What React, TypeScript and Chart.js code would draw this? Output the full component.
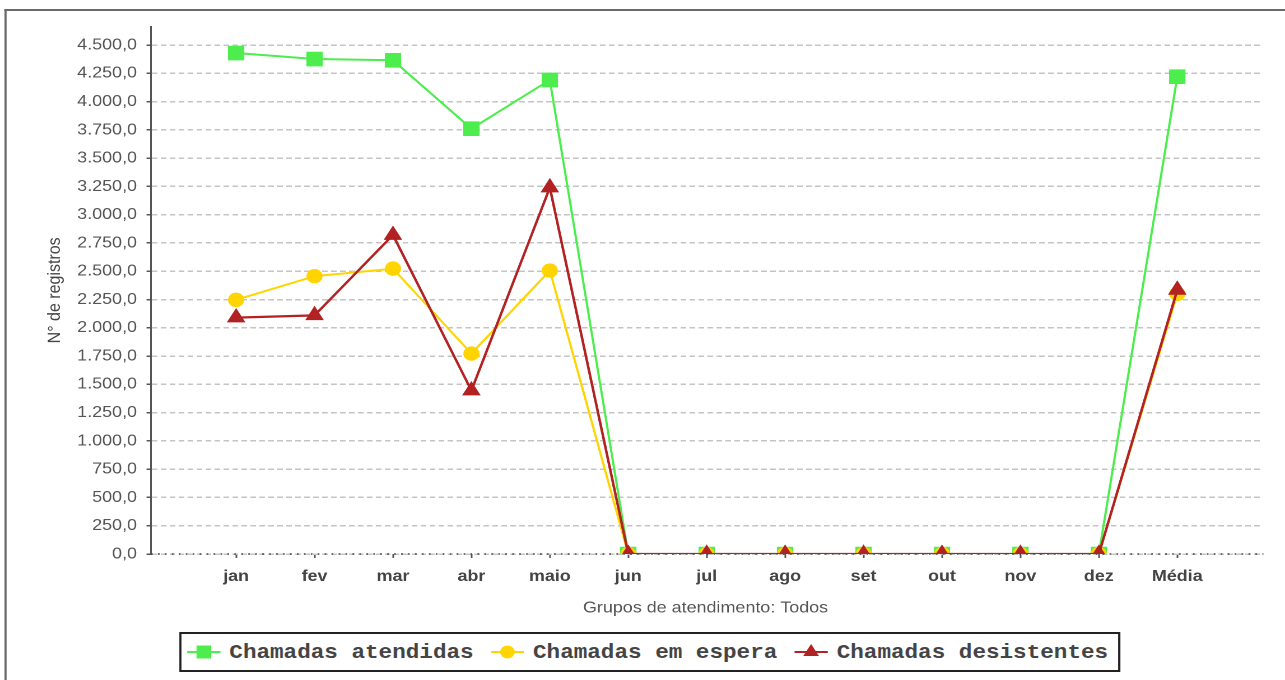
import { useEffect, useRef } from "react";
import { Chart, registerables } from "chart.js";

Chart.register(...registerables);

// ---- data ----
const categories = ["jan", "fev", "mar", "abr", "maio", "jun", "jul", "ago", "set", "out", "nov", "dez", "Média"];
const atendidas = [4429, 4376, 4365, 3760, 4191, 0, 0, 0, 0, 0, 0, 0, 4220];
const emEspera = [2247, 2456, 2523, 1772, 2506, 0, 0, 0, 0, 0, 0, 0, 2300];
const desistentes = [2090, 2110, 2820, 1445, 3240, 0, 0, 0, 0, 0, 0, 0, 2335];
const yTicks = [0, 250, 500, 750, 1000, 1250, 1500, 1750, 2000, 2250, 2500, 2750, 3000, 3250, 3500, 3750, 4000, 4250, 4500];
const seriesNames = ["Chamadas atendidas", "Chamadas em espera", "Chamadas desistentes"];
const seriesColors = ["#4ded4d", "#ffd400", "#b22222"];
const yTitle = "N° de registros";
const xTitle = "Grupos de atendimento: Todos";

// ---- layout ----
const W = 1147;
const H = 680;
const SX = 1285 / W;
const SANS = '"Liberation Sans", Arial, sans-serif';

function fmt(v: number): string {
  const s = Math.abs(v).toFixed(1);
  const [i, d] = s.split(".");
  return (v < 0 ? "-" : "") + i.replace(/\B(?=(\d{3})+(?!\d))/g, ".") + "," + d;
}

const dottedAxis = {
  id: "dottedAxis",
  beforeDatasetsDraw(chart: any) {
    const { ctx, chartArea } = chart;
    const y = chart.scales.y.getPixelForValue(0);
    ctx.save();
    ctx.strokeStyle = "#444";
    ctx.lineWidth = 1.5;
    ctx.setLineDash([1.5, 4.7]);
    ctx.beginPath();
    ctx.moveTo(chartArea.left, y);
    ctx.lineTo(chartArea.right + 3, y);
    ctx.stroke();
    ctx.restore();
  },
};

function Marker({ i }: { i: number }) {
  const c = seriesColors[i];
  return (
    <svg width={30} height={20} style={{ display: "block" }}>
      <line x1={0} y1={10} x2={30} y2={10} stroke={c} strokeWidth={2} />
      {i === 0 && <rect x={8.5} y={3.5} width={13} height={13} fill={c} />}
      {i === 1 && <circle cx={15} cy={10} r={6.5} fill={c} />}
      {i === 2 && <polygon points="15,2 22,14 8,14" fill={c} />}
    </svg>
  );
}

export default function App() {
  const ref = useRef<HTMLCanvasElement | null>(null);

  useEffect(() => {
    if (!ref.current) return;
    const mk = (arr: number[]) => arr.map((y, x) => ({ x, y }));
    const chart = new Chart(ref.current, {
      type: "line",
      data: {
        datasets: [
          {
            label: seriesNames[0],
            data: mk(atendidas),
            borderColor: seriesColors[0],
            backgroundColor: seriesColors[0],
            borderWidth: 2,
            pointStyle: "rect",
            pointRadius: 9.6,
            pointBorderWidth: 1,
            tension: 0,
            order: 3,
          },
          {
            label: seriesNames[1],
            data: mk(emEspera),
            borderColor: seriesColors[1],
            backgroundColor: seriesColors[1],
            borderWidth: 2,
            pointStyle: "circle",
            pointRadius: 6.7,
            pointBorderWidth: 1,
            tension: 0,
            order: 2,
          },
          {
            label: seriesNames[2],
            data: mk(desistentes),
            borderColor: seriesColors[2],
            backgroundColor: seriesColors[2],
            borderWidth: 2.3,
            pointStyle: "triangle",
            pointRadius: 8.6,
            pointBorderWidth: 1,
            tension: 0,
            order: 1,
          },
        ] as any,
      },
      options: {
        animation: false,
        responsive: false,
        devicePixelRatio: 2,
        events: [],
        layout: { padding: { top: 26.7, right: 22.3, left: 0, bottom: 0 } },
        plugins: { legend: { display: false }, tooltip: { enabled: false } },
        scales: {
          x: {
            type: "linear",
            min: -1.085,
            max: 13.055,
            afterBuildTicks: (s: any) => {
              s.ticks = categories.map((_, i) => ({ value: i }));
            },
            afterFit: (s: any) => {
              s.height = 126;
            },
            ticks: {
              callback: (v: any) => categories[v as number] ?? "",
              autoSkip: false,
              maxRotation: 0,
              minRotation: 0,
              padding: 9,
              color: "#444",
              font: { family: SANS, size: 16, weight: "bold" },
            },
            grid: {
              display: true,
              drawOnChartArea: false,
              drawTicks: true,
              tickLength: 4,
              tickColor: "#555",
              tickWidth: 1.5,
            },
            border: { display: false },
            title: {
              display: true,
              text: xTitle,
              color: "#555",
              font: { family: SANS, size: 16 },
              padding: { top: 0, bottom: 62.4 },
            },
          },
          y: {
            type: "linear",
            min: 0,
            max: 4662,
            afterBuildTicks: (s: any) => {
              s.ticks = yTicks.map((v) => ({ value: v }));
            },
            afterFit: (s: any) => {
              s.width = 134.8;
            },
            ticks: {
              callback: (v: any) => fmt(Number(v)),
              autoSkip: false,
              padding: 8.5,
              color: "#555",
              font: { family: SANS, size: 16 },
            },
            grid: {
              color: "#c4c4c4",
              lineWidth: 1.5,
              tickColor: "#555",
              tickLength: 4,
              tickWidth: 1.5,
            },
            border: { display: true, color: "#555", width: 1.5, dash: [5, 3] },
            title: {
              display: true,
              text: yTitle,
              color: "#444",
              font: { family: SANS, size: 16 },
              padding: { top: 39.4, bottom: 0 },
            },
          },
        },
      } as any,
      plugins: [dottedAxis],
    });
    return () => chart.destroy();
  }, []);

  return (
    <div
      style={{
        position: "absolute",
        left: 0,
        top: 0,
        width: 1285,
        height: 680,
        overflow: "hidden",
        background: "#fff",
      }}
    >
      <div
        style={{
          position: "absolute",
          left: 0,
          top: 0,
          width: W,
          height: H,
          transform: `scaleX(${SX})`,
          transformOrigin: "0 0",
        }}
      >
        <div
          style={{
            position: "absolute",
            left: 3.9,
            top: 8.5,
            right: -300,
            bottom: -50,
            borderTop: "2px solid #6a6a6a",
            borderLeft: "2.5px solid #6a6a6a",
          }}
        />
        <canvas ref={ref} width={W} height={H} style={{ position: "absolute", left: 0, top: 0 }} />
        <div
          style={{
            position: "absolute",
            left: 159.8,
            top: 632,
            width: 840.6,
            height: 40,
            boxSizing: "border-box",
            border: "2px solid #222",
            display: "flex",
            alignItems: "center",
            paddingLeft: 4.9,
            fontFamily: '"Liberation Mono", monospace',
            fontSize: 20.2,
            fontWeight: "bold",
            color: "#444",
            whiteSpace: "nowrap",
            background: "#fff",
          }}
        >
          {seriesNames.map((n, i) => (
            <div key={n} style={{ display: "flex", alignItems: "center", marginRight: 15 }}>
              <Marker i={i} />
              <span style={{ marginLeft: 8 }}>{n}</span>
            </div>
          ))}
        </div>
      </div>
    </div>
  );
}
